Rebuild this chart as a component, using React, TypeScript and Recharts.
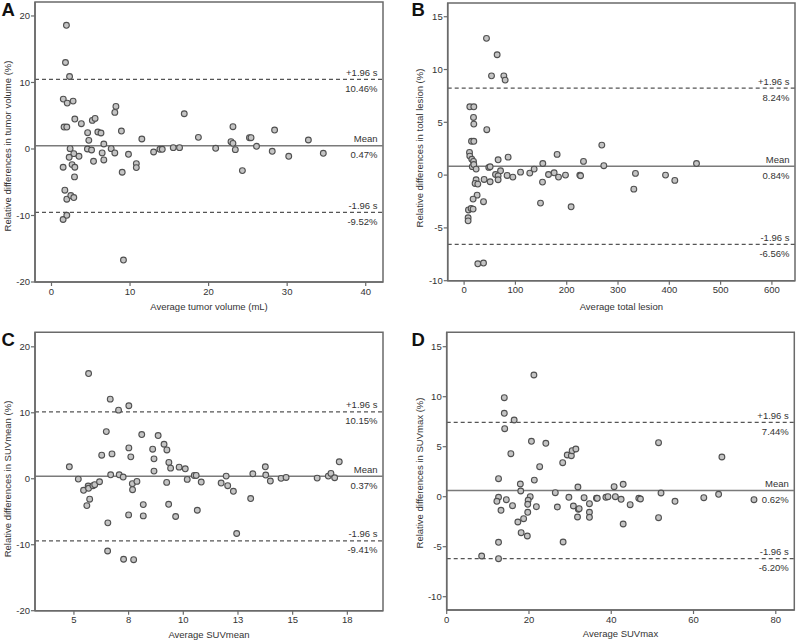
import React from 'react';
import { ScatterChart, Scatter, XAxis, YAxis, ReferenceLine, ReferenceArea } from 'recharts';

// Bland-Altman panels: [average, relative difference %]
const tumorVolumePoints: [number, number][] = [
  [1.9, 18.6], [1.78, 13.0], [2.3, 10.9], [1.5, 7.5], [2.0, 6.9], [2.75, 7.2], [1.6, 3.3], [1.95, 3.3],
  [2.97, 4.5], [3.8, 3.8], [5.2, 4.3], [5.55, 4.6], [8.2, 6.4], [8.06, 5.5], [8.9, 2.7], [4.6, 2.45],
  [5.9, 2.55], [6.3, 2.4], [4.75, 1.3], [6.66, 0.75], [11.5, 1.5], [16.9, 5.3], [18.7, 1.75], [23.1, 3.35],
  [22.85, 1.1], [23.1, 0.85], [25.2, 1.7], [25.4, 1.7], [28.4, 2.85], [32.7, 1.35], [26.1, 0.4], [2.37, 0.05],
  [4.57, 0], [5.1, -0.15], [7.6, 0.05], [8.06, -0.6], [6.45, -0.6], [2.84, -0.7], [3.5, -1.1], [2.25, -1.25],
  [9.8, -0.8], [13.0, -0.45], [13.8, -0.05], [14.1, -0.05], [15.5, 0.2], [16.3, 0.2], [20.9, 0.1], [23.4, -0.1],
  [28.1, -0.35], [30.2, -1.1], [34.6, -0.65], [1.48, -2.75], [2.62, -2.35], [2.97, -2.75], [5.35, -1.85],
  [6.66, -1.65], [2.93, -4.2], [9.0, -3.5], [10.8, -2.2], [10.8, -2.8], [24.3, -3.25], [1.7, -6.2],
  [1.95, -7.55], [2.46, -7.0], [2.84, -7.3], [1.48, -10.6], [1.95, -9.97], [9.16, -16.7],
];

const totalLesionPoints: [number, number][] = [
  [43.6, 12.95], [64.4, 11.4], [53.4, 9.4], [77.4, 9.4], [80, 9.0], [11.1, 6.47], [18.9, 6.47], [18.3, 5.46],
  [18.9, 4.83], [44.2, 4.3], [14.4, 3.2], [18.9, 3.2], [268.4, 2.84], [181.3, 1.96], [10.5, 2.15], [85.8, 1.7],
  [66.3, 1.45], [11.1, 1.8], [15, 1.5], [18.3, 1.3], [16, 0.8], [18.9, 1.0], [23.4, 0.57], [153.4, 1.1],
  [232.7, 1.3], [272.3, 0.89], [453, 1.1], [48.1, 0.73], [50.7, 0.79], [61.2, 0.06], [71, 0.41], [66.3, -0.07],
  [66.3, -0.44], [83.8, -0.03], [95, -0.19], [110, 0.28], [128, 0.19], [136.5, 0.57], [164.5, 0.06],
  [175.5, 0.22], [184, -0.19], [197.6, 0], [225.5, 0], [227, -0.06], [334, 0.16], [392.6, 0], [410.7, -0.5],
  [39, -0.41], [50.7, -0.63], [23.4, -0.44], [21.4, -0.79], [26.7, -0.85], [152.8, -0.66], [330.8, -1.33],
  [25.3, -1.9], [17.5, -2.27], [37.8, -2.52], [148.9, -2.65], [208.6, -3.0], [8.5, -3.3], [13.6, -3.16],
  [17.5, -3.22], [7.8, -4.04], [7.8, -4.33], [26.7, -8.4], [37.8, -8.33],
];

const suvMeanPoints: [number, number][] = [
  [5.67, 15.95], [6.66, 12.07], [7.04, 10.4], [7.51, 11.07], [6.48, 7.15], [8.1, 6.7], [8.85, 6.55], [9.12, 5.23],
  [9.25, 4.37], [7.51, 4.68], [7.6, 3.32], [8.6, 4.48], [8.66, 3.02], [6.27, 3.57], [6.74, 3.77], [9.34, 2.47],
  [9.42, 1.61], [9.81, 1.76], [10.09, 1.51], [8.66, 1.16], [4.79, 1.81], [6.68, 0.6], [7.07, 0.6], [7.25, 0.26],
  [10.5, 0.5], [10.59, 0.5], [11.96, 0.4], [13.18, 0.75], [13.75, 1.81], [13.77, 0.56], [17.13, 2.57],
  [16.63, 0.4], [16.75, 0.81], [16.92, 0.15], [16.12, 0.1], [14.47, 0.06], [14.7, 0.2], [5.2, -0.05],
  [10.18, -0.1], [5.44, -1.75], [5.65, -1.1], [5.67, -1.45], [5.87, -1.05], [5.95, -0.9], [6.17, -0.45],
  [5.72, -3.1], [5.59, -4.07], [6.55, -6.68], [6.54, -10.95], [7.5, -5.48], [7.67, -0.75], [7.68, -1.66],
  [7.88, -0.4], [8.17, -3.92], [8.17, -5.63], [7.27, -12.2], [7.73, -12.27], [9.24, -0.55], [9.33, -3.87],
  [9.65, -5.72], [10.64, -4.77], [10.82, -0.5], [11.73, -0.65], [12.03, -1.05], [12.29, -1.9], [12.44, -8.3],
  [13.08, -3.0], [13.98, -0.35],
];

const suvMaxPoints: [number, number][] = [
  [21.2, 12.17], [14.0, 9.9], [14.0, 8.34], [16.4, 7.67], [14.1, 6.8], [20.6, 5.54], [24.1, 5.34], [51.5, 5.4],
  [15.6, 4.3], [29.3, 4.17], [30.3, 4.1], [30.5, 4.6], [31.4, 4.77], [22.6, 3.0], [28.2, 3.4], [66.9, 3.97],
  [12.6, 1.8], [21.3, 1.66], [17.9, 1.27], [18.0, 0.57], [31.9, 0.97], [40.7, 1.0], [42.9, 1.24], [26.4, 0.4],
  [52.1, 0.37], [66.1, 0.24], [12.6, -0.06], [12.2, -0.46], [14.5, -0.3], [20.3, 0], [19.8, -0.36],
  [19.7, -0.76], [16.0, -0.9], [21.8, -1.0], [13.2, -1.36], [19.7, -1.56], [18.7, -2.2], [17.3, -2.53],
  [18.1, -3.6], [19.6, -3.93], [12.6, -4.56], [8.5, -5.93], [12.6, -6.2], [26.9, -1.03], [28.3, -4.53],
  [29.7, -0.06], [30.8, -0.93], [32.0, -1.26], [32.2, -1.2], [31.8, -2.03], [33.4, -0.1], [34.7, -0.7],
  [34.7, -1.56], [34.7, -2.06], [36.4, -0.16], [36.6, -0.16], [38.7, -0.06], [39.2, 0], [41.0, 0],
  [42.4, -0.26], [44.6, -0.8], [42.9, -2.73], [46.7, -0.16], [47.1, -0.23], [51.5, -2.1], [55.5, -0.46],
  [62.5, -0.1], [74.7, -0.3],
];

// mean, upper limit, lower limit (%)
const tumorVolumeLimits = [0.47, 10.46, -9.52];
const totalLesionLimits = [0.84, 8.24, -6.56];
const suvMeanLimits = [0.37, 10.15, -9.41];
const suvMaxLimits = [0.62, 7.44, -6.2];

const tumorXTicks = [0, 10, 20, 30, 40];
const tumorYTicks = [-20, -10, 0, 10, 20];
const lesionXTicks = [0, 100, 200, 300, 400, 500, 600];
const lesionYTicks = [-10, -5, 0, 5, 10, 15];
const suvMeanXTicks = [5, 7.5, 10, 12.5, 15, 17.5];
const suvMeanYTicks = [-20, -10, 0, 10, 20];
const suvMaxXTicks = [0, 20, 40, 60, 80];
const suvMaxYTicks = [-10, -5, 0, 5, 10, 15];

const FONT = '"Liberation Sans", Arial, Helvetica, sans-serif';
const FRAME = '#6a6a6a';
const TEXT = '#333';

const LimitLabel = (props: any) => {
  const { viewBox, top, bottom } = props;
  if (!viewBox) return null;
  const x = viewBox.x + viewBox.width - 5.5;
  const y = viewBox.y;
  return (
    <g fontFamily={FONT} fontSize={9.5} fill={TEXT}>
      <text x={x} y={y - 3.5} textAnchor="end">{top}</text>
      <text x={x} y={y + 12.5} textAnchor="end">{bottom}</text>
    </g>
  );
};

const Dot = (props: any) => (
  <circle cx={props.cx} cy={props.cy} r={2.9} fill="#c4c4c4" stroke="#505050" strokeWidth={1.1} />
);

interface PanelProps {
  left: number;
  top: number;
  width: number;
  height: number;
  plot: { left: number; right: number; top: number; bottom: number };
  points: [number, number][];
  limits: number[];
  xDomain: [number, number];
  yDomain: [number, number];
  xTicks: number[];
  yTicks: number[];
  xFormat?: (v: number) => string;
  letter: string;
  letterX: number;
  letterY: number;
  xTitle: string;
  yTitle: string;
  xTitleY: number;
  yTitleX: number;
  yTitleY: number;
}

const Panel: React.FC<PanelProps> = (p) => {
  const data = p.points.map(([x, y]) => ({ x, y }));
  const yAxisWidth = 30;
  const xAxisHeight = 20;
  const [mean, upper, lower] = p.limits;
  const tickStyle = { fontSize: 9.5, fill: TEXT, fontFamily: FONT };
  return (
    <div style={{ position: 'absolute', left: p.left, top: p.top, width: p.width, height: p.height }}>
      <ScatterChart
        width={p.width}
        height={p.height}
        margin={{
          top: p.plot.top,
          left: p.plot.left - yAxisWidth,
          right: p.width - p.plot.right,
          bottom: p.height - p.plot.bottom - xAxisHeight,
        }}
      >
        <XAxis
          type="number"
          dataKey="x"
          domain={p.xDomain}
          ticks={p.xTicks}
          tickFormatter={p.xFormat}
          interval={0}
          height={xAxisHeight}
          tick={tickStyle}
          tickSize={4}
          tickMargin={2}
          axisLine={{ stroke: FRAME, strokeWidth: 1.5 }}
          tickLine={{ stroke: FRAME, strokeWidth: 1.2 }}
        />
        <YAxis
          type="number"
          dataKey="y"
          domain={p.yDomain}
          ticks={p.yTicks}
          interval={0}
          width={yAxisWidth}
          tick={tickStyle}
          tickSize={4}
          tickMargin={1}
          axisLine={{ stroke: FRAME, strokeWidth: 1.5 }}
          tickLine={{ stroke: FRAME, strokeWidth: 1.2 }}
        />
        <ReferenceArea
          x1={p.xDomain[0]}
          x2={p.xDomain[1]}
          y1={p.yDomain[0]}
          y2={p.yDomain[1]}
          fill="none"
          fillOpacity={0}
          stroke={FRAME}
          strokeWidth={1.5}
        />
        <ReferenceLine
          y={upper}
          stroke="#555"
          strokeWidth={1.3}
          strokeDasharray="4 3"
          label={<LimitLabel top="+1.96 s" bottom={`${upper.toFixed(2)}%`} />}
        />
        <ReferenceLine
          y={mean}
          stroke="#7a7a7a"
          strokeWidth={1.5}
          label={<LimitLabel top="Mean" bottom={`${mean.toFixed(2)}%`} />}
        />
        <ReferenceLine
          y={lower}
          stroke="#555"
          strokeWidth={1.3}
          strokeDasharray="4 3"
          label={<LimitLabel top="-1.96 s" bottom={`${lower.toFixed(2)}%`} />}
        />
        <Scatter data={data} shape={Dot} isAnimationActive={false} />
      </ScatterChart>
      <div
        style={{
          position: 'absolute', left: p.plot.left, width: p.plot.right - p.plot.left, top: p.xTitleY - 7,
          height: 14, lineHeight: '14px', textAlign: 'center', fontFamily: FONT, fontSize: 9.5, color: TEXT,
        }}
      >
        {p.xTitle}
      </div>
      <div
        style={{
          position: 'absolute', left: p.yTitleX - 120, top: p.yTitleY - 7, width: 240, height: 14,
          lineHeight: '14px', textAlign: 'center', fontFamily: FONT, fontSize: 9.5, color: TEXT,
          transform: 'rotate(-90deg)', whiteSpace: 'nowrap',
        }}
      >
        {p.yTitle}
      </div>
      <div
        style={{
          position: 'absolute', left: p.letterX, top: p.letterY, fontFamily: FONT, fontWeight: 'bold',
          fontSize: 18.5, lineHeight: '20px', height: 20, color: '#111',
        }}
      >
        {p.letter}
      </div>
    </div>
  );
};

export default function App() {
  return (
    <div style={{ position: 'absolute', left: 0, top: 0, width: 797, height: 642, background: '#fff' }}>
      <Panel
        left={0} top={0} width={400} height={320}
        plot={{ left: 35, right: 383, top: 2, bottom: 282 }}
        points={tumorVolumePoints} limits={tumorVolumeLimits}
        xDomain={[-2.1, 42.2]} yDomain={[-20, 22.1]}
        xTicks={tumorXTicks} yTicks={tumorYTicks}
        letter="A" letterX={1.5} letterY={0}
        xTitle="Average tumor volume (mL)" yTitle="Relative differences in tumor volume (%)"
        xTitleY={306.5} yTitleX={8} yTitleY={146}
      />
      <Panel
        left={400} top={0} width={397} height={320}
        plot={{ left: 47.7, right: 395, top: 3, bottom: 280.7 }}
        points={totalLesionPoints} limits={totalLesionLimits}
        xDomain={[-32, 645]} yDomain={[-10, 16.3]}
        xTicks={lesionXTicks} yTicks={lesionYTicks}
        letter="B" letterX={11.5} letterY={0}
        xTitle="Average total lesion" yTitle="Relative differences in total lesion (%)"
        xTitleY={306.5} yTitleX={20} yTitleY={148}
      />
      <Panel
        left={0} top={320} width={400} height={322}
        plot={{ left: 35, right: 383, top: 12.3, bottom: 290.7 }}
        points={suvMeanPoints} limits={suvMeanLimits}
        xDomain={[3.22, 19.13]} yDomain={[-20, 22.2]}
        xTicks={suvMeanXTicks} yTicks={suvMeanYTicks}
        xFormat={(v: number) => String(Math.round(v))}
        letter="C" letterX={1.5} letterY={10}
        xTitle="Average SUVmean" yTitle="Relative differences in SUVmean (%)"
        xTitleY={315} yTitleX={8} yTitleY={159}
      />
      <Panel
        left={400} top={320} width={397} height={322}
        plot={{ left: 46.7, right: 394.3, top: 12.3, bottom: 290 }}
        points={suvMaxPoints} limits={suvMaxLimits}
        xDomain={[0, 84.5]} yDomain={[-11.33, 16.44]}
        xTicks={suvMaxXTicks} yTicks={suvMaxYTicks}
        letter="D" letterX={11.5} letterY={10}
        xTitle="Average SUVmax" yTitle="Relative differences in SUVmax (%)"
        xTitleY={314.3} yTitleX={20} yTitleY={152.5}
      />
    </div>
  );
}
